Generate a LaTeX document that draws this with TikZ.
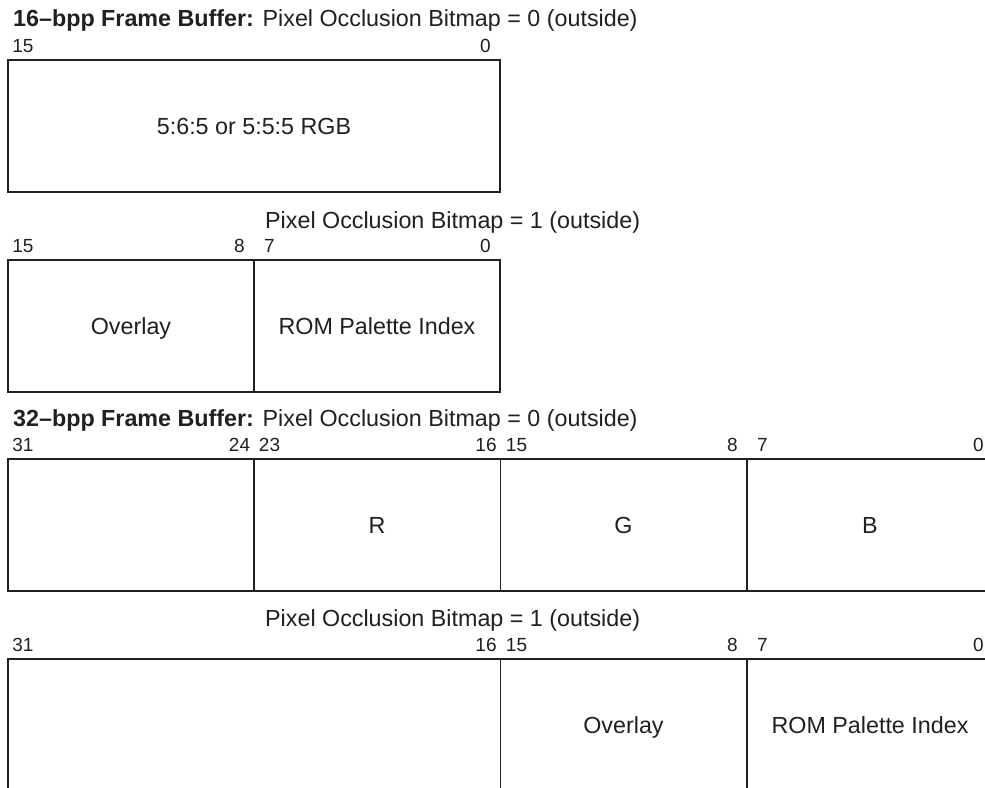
\documentclass[tikz,border=0pt]{standalone}
\usepackage{fontspec}
\setmainfont{Liberation Sans}
\definecolor{ink}{HTML}{231F20}
\begin{document}
\begin{tikzpicture}[x=1pt,y=-1pt,
  frame/.style={draw=ink,line width=2.2pt},
  divider/.style={draw=ink,line width=1.1pt},
  heading/.style={anchor=base west,inner sep=0pt,text=ink,font=\fontsize{23.3}{28}\selectfont},
  bitno/.style={anchor=base,inner sep=0pt,text=ink,font=\fontsize{19}{23}\selectfont},
  field/.style={anchor=base,inner sep=0pt,text=ink,font=\fontsize{23.3}{28}\selectfont}]
\clip (0,0) rectangle (985,787);
\fill[white] (0,0) rectangle (985,787);

% ---- 16-bpp, occlusion bit 0 ----
\node[heading] (h1) at (13,27) {\textbf{16–bpp Frame Buffer:} Pixel Occlusion Bitmap = 0 (outside)};
\node[bitno] (a15) at (23,52) {15};
\node[bitno] (a0) at (485.5,52) {0};
\draw[frame] (8,60) rectangle (500,192);
\node[field] (argb) at (254,134.5) {5:6:5 or 5:5:5 RGB};

% ---- 16-bpp, occlusion bit 1 ----
\node[heading] (h2) at (265,228) {Pixel Occlusion Bitmap = 1 (outside)};
\node[bitno] (b15) at (23,252) {15};
\node[bitno] (b8) at (239.5,252) {8};
\node[bitno] (b7) at (269.5,252) {7};
\node[bitno] (b0) at (485.5,252) {0};
\draw[frame] (8,260) rectangle (500,392);
\draw[divider] (254,260) -- (254,392);
\node[field] (bov) at (131,334.5) {Overlay};
\node[field] (brom) at (377,334.5) {ROM Palette Index};

% ---- 32-bpp, occlusion bit 0 ----
\node[heading] (h3) at (13,426) {\textbf{32–bpp Frame Buffer:} Pixel Occlusion Bitmap = 0 (outside)};
\node[bitno] (c31) at (23,451) {31};
\node[bitno] (c24) at (239.5,451) {24};
\node[bitno] (c23) at (269.5,451) {23};
\node[bitno] (c16) at (486,451) {16};
\node[bitno] (c15) at (516.5,451) {15};
\node[bitno] (c8) at (732.5,451) {8};
\node[bitno] (c7) at (762.5,451) {7};
\node[bitno] (c0) at (978.5,451) {0};
\draw[frame] (8,459) rectangle (993,591);
\draw[divider] (254,459) -- (254,591);
\draw[divider] (500.5,459) -- (500.5,591);
\draw[divider] (747,459) -- (747,591);
\node[field] (cr) at (377,533.5) {R};
\node[field] (cg) at (623.5,533.5) {G};
\node[field] (cb) at (870,533.5) {B};

% ---- 32-bpp, occlusion bit 1 ----
\node[heading] (h4) at (265,626) {Pixel Occlusion Bitmap = 1 (outside)};
\node[bitno] (d31) at (23,651) {31};
\node[bitno] (d16) at (486,651) {16};
\node[bitno] (d15) at (516.5,651) {15};
\node[bitno] (d8) at (732.5,651) {8};
\node[bitno] (d7) at (762.5,651) {7};
\node[bitno] (d0) at (978.5,651) {0};
\draw[frame] (8,659) rectangle (993,791);
\draw[divider] (500.5,659) -- (500.5,791);
\draw[divider] (747,659) -- (747,791);
\node[field] (dov) at (623.5,733.5) {Overlay};
\node[field] (drom) at (870,733.5) {ROM Palette Index};
\end{tikzpicture}
\end{document}
